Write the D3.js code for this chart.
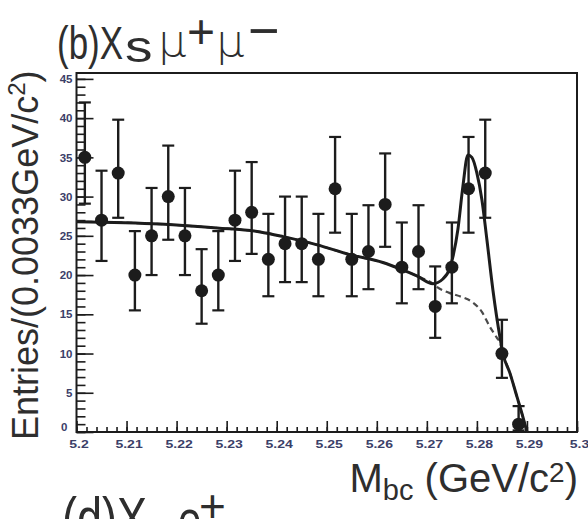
<!DOCTYPE html>
<html>
<head>
<meta charset="utf-8">
<script src="https://cdn.jsdelivr.net/npm/d3@7"></script>
<style>
  html, body { margin: 0; padding: 0; background: #fff; }
  svg { display: block; }
</style>
</head>
<body>
<script>
// Mbc histogram: 30 bins of 0.0033 GeV between 5.20 and 5.30 (empty bins not drawn)
const massRange = [5.2, 5.3];
const nBins = 30;
const counts = [35, 27, 33, 20, 25, 30, 25, 18, 20, 27, 28, 22, 24, 24, 22, 31, 22, 23, 29, 21, 23, 16, 21, 31, 33, 10, 1];
const errLow = [29.1, 21.8, 27.3, 15.5, 20.0, 24.5, 20.0, 13.8, 15.5, 21.8, 22.7, 17.3, 19.1, 19.1, 17.3, 25.4, 17.3, 18.2, 23.6, 16.4, 18.2, 12.0, 16.4, 25.4, 27.3, 6.9, 0.2];
const errHigh = [42.0, 33.3, 39.8, 25.6, 31.1, 36.5, 31.1, 23.3, 25.6, 33.3, 34.4, 27.8, 30.0, 30.0, 27.8, 37.6, 27.8, 28.9, 35.5, 26.7, 28.9, 21.1, 26.7, 37.6, 39.8, 14.3, 3.3];

// total fit (signal + background)
const fitX = [5.2000, 5.2167, 5.2281, 5.2367, 5.2413, 5.2481, 5.2546, 5.2612, 5.2646, 5.2680, 5.2712, 5.2732, 5.2746, 5.2752, 5.2762, 5.2772, 5.2782, 5.2790, 5.2800, 5.2810, 5.2820, 5.2832, 5.2846, 5.2852, 5.2866, 5.2880, 5.2892, 5.2900];
const fitY = [26.8, 26.5, 26.0, 25.5, 24.9, 23.85, 22.6, 21.6, 20.8, 19.9, 18.9, 19.5, 20.9, 22.3, 25.8, 31.3, 35.3, 35.0, 33.0, 29.6, 24.5, 18.1, 12.1, 10.0, 7.5, 4.5, 1.9, 0.0];

// background component alone
const bkgX = [5.2000, 5.2167, 5.2281, 5.2367, 5.2413, 5.2481, 5.2546, 5.2612, 5.2646, 5.2680, 5.2712, 5.2720, 5.2746, 5.2770, 5.2790, 5.2810, 5.2826, 5.2840, 5.2846, 5.2852, 5.2866, 5.2880, 5.2892, 5.2900];
const bkgY = [26.8, 26.5, 26.0, 25.5, 24.9, 23.85, 22.6, 21.6, 20.8, 19.9, 18.9, 18.5, 17.7, 17.2, 16.6, 15.3, 13.4, 12.0, 11.4, 10.0, 7.5, 4.5, 1.9, 0.0];

const xMajor = [5.2, 5.21, 5.22, 5.23, 5.24, 5.25, 5.26, 5.27, 5.28, 5.29, 5.3];
const xTickLabels = ["5.2", "5.21", "5.22", "5.23", "5.24", "5.25", "5.26", "5.27", "5.28", "5.29", "5.3"];
const yMajor = [0, 5, 10, 15, 20, 25, 30, 35, 40, 45];
const yTickLabels = ["0", "5", "10", "15", "20", "25", "30", "35", "40", "45"];

const W = 588, H = 519;
const plot = { left: 76.5, right: 577, top: 73, bottom: 432 };
const ink = "#1c1c1c";
const textInk = "#2e2e2e";
const labelInk = "#3b4068";
const sans = "Liberation Sans, Arial, sans-serif";

const svg = d3.select("body").append("svg")
  .attr("width", W).attr("height", H)
  .attr("viewBox", `0 0 ${W} ${H}`);

const x = d3.scaleLinear().domain(massRange).range([plot.left, plot.right]);
const y = d3.scaleLinear().domain([0, 45.75]).range([plot.bottom, plot.top]);

// frame
svg.append("rect")
  .attr("x", plot.left).attr("y", plot.top)
  .attr("width", plot.right - plot.left).attr("height", plot.bottom - plot.top)
  .attr("fill", "none").attr("stroke", ink).attr("stroke-width", 2);

// bottom axis: major ticks every 0.01, minor every 0.002, drawn inward
const xMinor = d3.range(0, 51).map(i => 5.2 + i * 0.002);
const xAxisMinor = d3.axisBottom(x).tickValues(xMinor).tickSize(-5).tickFormat("");
const xAxisMajor = d3.axisBottom(x).tickValues(xMajor).tickSize(-11)
  .tickFormat((d, i) => xTickLabels[i]).tickPadding(0);
const gxm = svg.append("g").attr("transform", `translate(0,${plot.bottom})`).call(xAxisMinor);
const gx = svg.append("g").attr("transform", `translate(0,${plot.bottom})`).call(xAxisMajor);
[gxm, gx].forEach(g => {
  g.select(".domain").remove();
  g.selectAll(".tick line").attr("stroke", ink).attr("stroke-width", 1.6);
});
gx.selectAll(".tick text")
  .attr("y", 0).attr("dy", 0)
  .attr("transform", "translate(2,15.5) scale(1.22,0.95)")
  .attr("font-family", sans)
  .attr("font-weight", "bold").attr("font-size", 11.5)
  .attr("fill", labelInk);

// left axis: major every 5, minor every 1, drawn inward
const yMinor = d3.range(0, 46);
const yAxisMinor = d3.axisLeft(y).tickValues(yMinor).tickSize(-9).tickFormat("");
const yAxisMajor = d3.axisLeft(y).tickValues(yMajor).tickSize(-17)
  .tickFormat((d, i) => yTickLabels[i]).tickPadding(4);
const gym = svg.append("g").attr("transform", `translate(${plot.left},0)`).call(yAxisMinor);
const gy = svg.append("g").attr("transform", `translate(${plot.left},0)`).call(yAxisMajor);
[gym, gy].forEach(g => {
  g.select(".domain").remove();
  g.selectAll(".tick line").attr("stroke", ink).attr("stroke-width", 1.6);
});
gy.selectAll(".tick text")
  .attr("font-family", sans)
  .attr("font-weight", "bold").attr("font-size", 11.5)
  .attr("fill", labelInk);
gy.selectAll(".tick text").filter(d => d === 0).attr("dy", "-0.1em").attr("x", -9);

// background (dashed) then total fit (solid)
const line = d3.line().x(d => x(d[0])).y(d => y(d[1])).curve(d3.curveMonotoneX);
svg.append("path")
  .attr("d", line(bkgX.map((v, i) => [v, bkgY[i]])))
  .attr("fill", "none").attr("stroke", "#4a4a4a").attr("stroke-width", 2.2)
  .attr("stroke-dasharray", "6,4");
svg.append("path")
  .attr("d", line(fitX.map((v, i) => [v, fitY[i]])))
  .attr("fill", "none").attr("stroke", ink).attr("stroke-width", 3);

// data points with error bars
const binW = (massRange[1] - massRange[0]) / nBins;
const pts = counts.map((c, i) => ({ m: massRange[0] + (i + 0.5) * binW, n: c, lo: errLow[i], hi: errHigh[i] }));
const pg = svg.append("g").selectAll("g").data(pts).join("g");
pg.append("line")
  .attr("x1", d => x(d.m)).attr("x2", d => x(d.m))
  .attr("y1", d => y(d.lo)).attr("y2", d => y(d.hi))
  .attr("stroke", ink).attr("stroke-width", 2.4);
pg.append("line")
  .attr("x1", d => x(d.m) - 6).attr("x2", d => x(d.m) + 6)
  .attr("y1", d => y(d.hi)).attr("y2", d => y(d.hi))
  .attr("stroke", ink).attr("stroke-width", 2.2);
pg.append("line")
  .attr("x1", d => x(d.m) - 6).attr("x2", d => x(d.m) + 6)
  .attr("y1", d => y(d.lo)).attr("y2", d => y(d.lo))
  .attr("stroke", ink).attr("stroke-width", 2.2);
pg.append("circle")
  .attr("cx", d => x(d.m)).attr("cy", d => y(d.n)).attr("r", 6.5)
  .attr("fill", ink);

// panel heading "(b)Xs μ+μ−", built piece by piece
const head = svg.append("g").attr("fill", textInk);
head.append("text").attr("transform", "translate(57,59) scale(1,1.32)")
  .attr("font-family", sans).attr("font-size", 35).text("(b)X");
head.append("text").attr("transform", "translate(125,62) scale(1.25,1)")
  .attr("font-family", sans).attr("font-size", 44).text("s");
head.append("text").attr("transform", "translate(158,56)")
  .attr("font-family", "DejaVu Sans, sans-serif").attr("font-weight", 200)
  .attr("font-size", 45).text("μ");
head.append("text").attr("transform", "translate(187,48)")
  .attr("font-family", sans).attr("font-size", 48).text("+");
head.append("text").attr("transform", "translate(216,56)")
  .attr("font-family", "DejaVu Sans, sans-serif").attr("font-weight", 200)
  .attr("font-size", 45).text("μ");
head.append("text").attr("transform", "translate(248,49)")
  .attr("font-family", sans).attr("font-size", 54).text("−");

// y axis title
const yt = svg.append("text")
  .attr("transform", "translate(38,440) rotate(-90)")
  .attr("font-family", sans)
  .attr("font-size", 36).attr("fill", textInk);
yt.append("tspan").text("Entries/(0.0033GeV/c");
yt.append("tspan").attr("font-size", 24).attr("dy", -13).text("2");
yt.append("tspan").attr("dy", 13).text(")");

// x axis title
const xt = svg.append("text")
  .attr("x", 578).attr("y", 492).attr("text-anchor", "end")
  .attr("font-family", sans)
  .attr("font-size", 40).attr("fill", textInk);
xt.append("tspan").text("M");
xt.append("tspan").attr("font-size", 29).attr("dy", 8).text("bc");
xt.append("tspan").attr("dy", -8).text(" (GeV/c");
xt.append("tspan").attr("font-size", 28).attr("dy", -10).text("2");
xt.append("tspan").attr("dy", 10).text(")");

// heading of the panel below, cut by the lower edge
const next = svg.append("g").attr("fill", textInk).attr("font-family", sans);
next.append("text").attr("transform", "translate(62,539) scale(1,1.32)")
  .attr("font-size", 45).text("(d)X");
next.append("text").attr("transform", "translate(150,552) scale(1,1.32)")
  .attr("font-size", 36).text("s");
next.append("text").attr("transform", "translate(178,539) scale(1,1.32)")
  .attr("font-size", 42).text("e");
next.append("text").attr("transform", "translate(199,522)")
  .attr("font-size", 46).text("+");
</script>
</body>
</html>
